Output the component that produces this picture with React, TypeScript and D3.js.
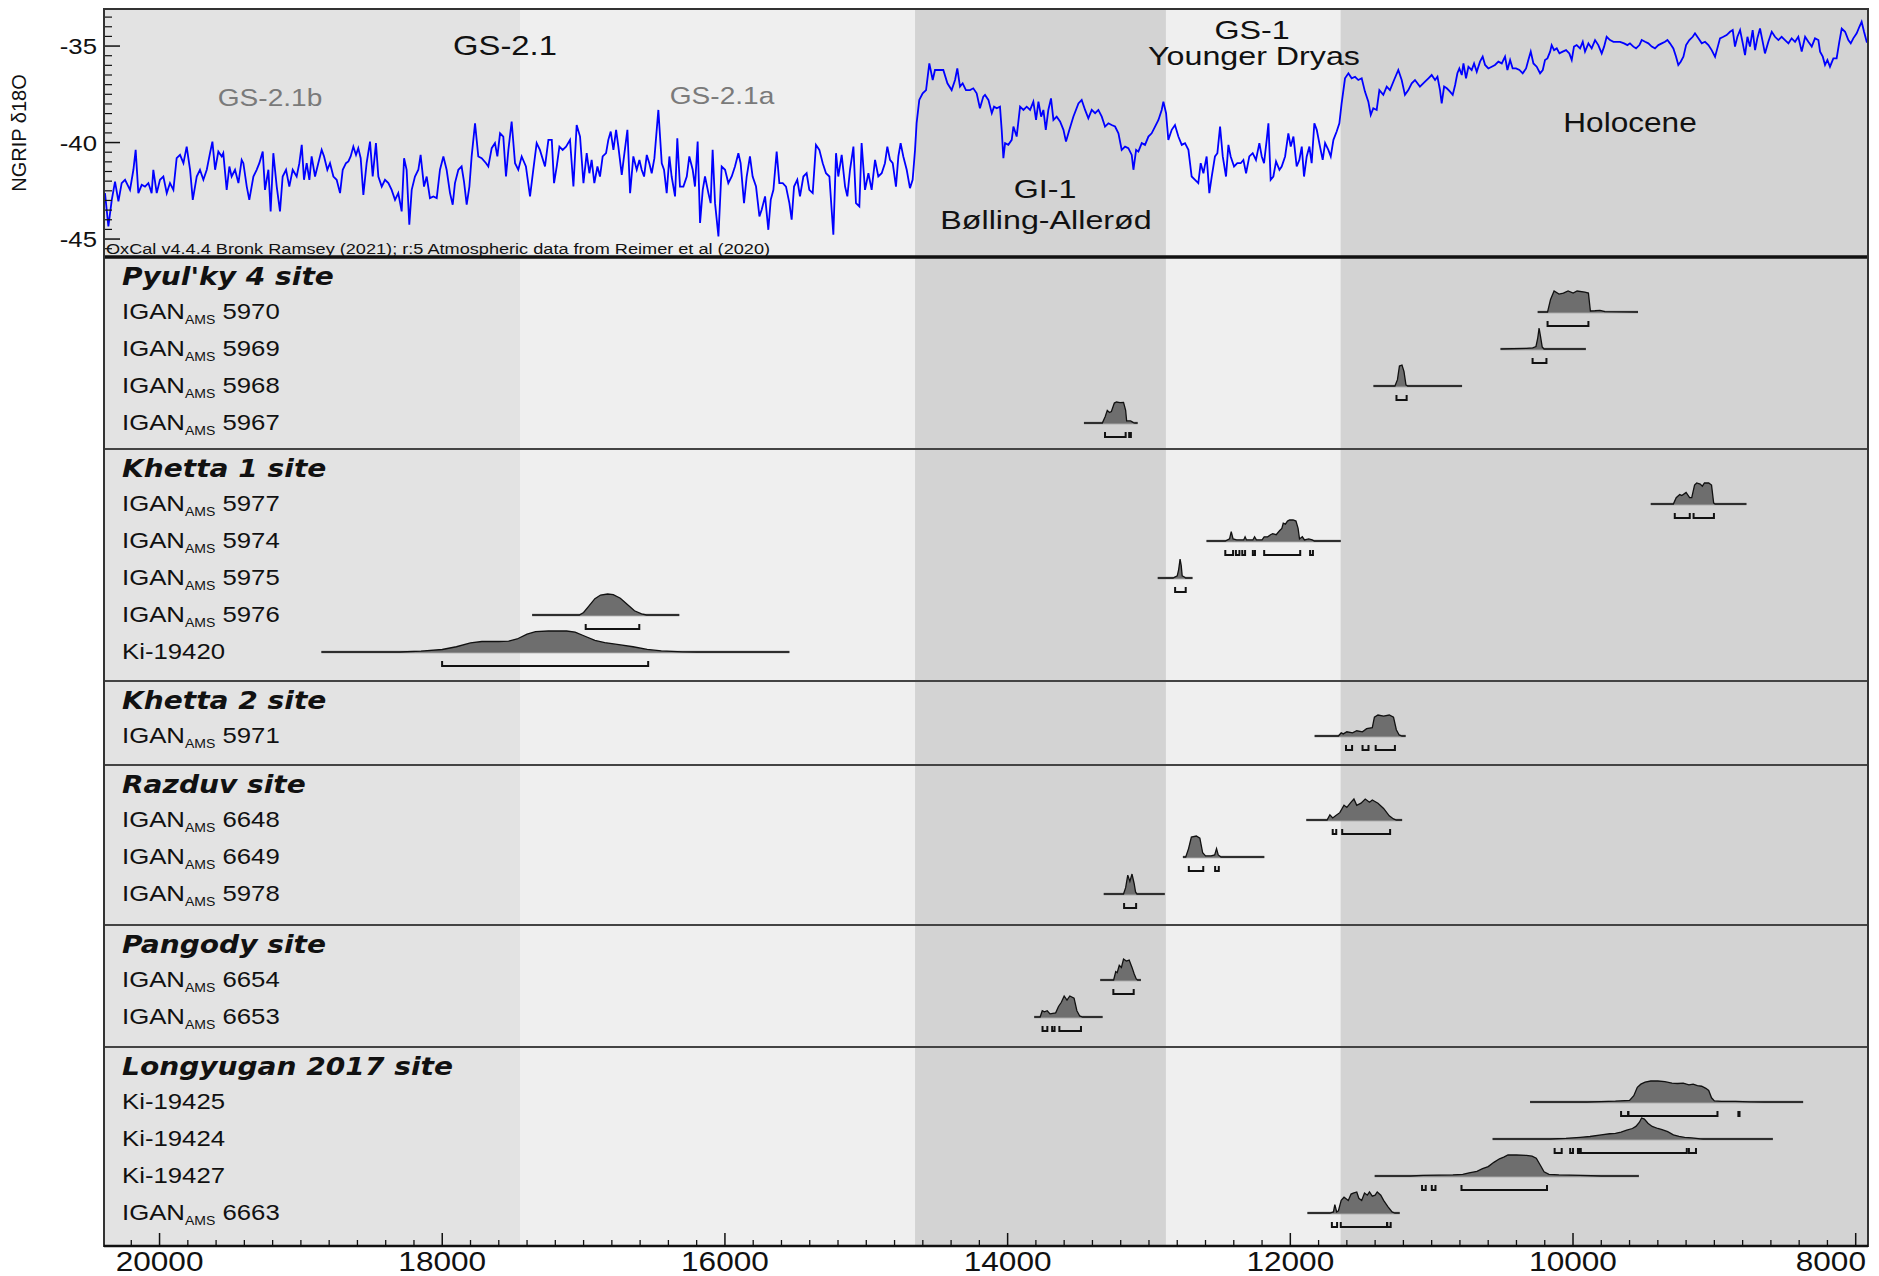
import React from "react";
import * as d3 from "d3";

// ---------------- DATA ----------------
// NGRIP δ18O record (year cal BP, ‰)
const ngripSeries: [number, number][] = [
[20386,-42.62],[20362,-44.34],[20338,-42.97],[20315,-42.02],[20291,-43.05],[20268,-42.10],[20244,-41.93],[20209,-42.45],[20185,-41.41],[20169,-40.38],[20150,-42.62],[20126,-42.19],[20103,-42.28],[20079,-42.10],[20056,-42.62],[20044,-41.41],[20020,-42.62],[19997,-41.93],[19973,-41.76],[19949,-42.62],[19926,-42.10],[19902,-42.45],[19879,-40.81],[19855,-40.64],[19831,-41.07],[19808,-40.21],[19784,-41.41],[19765,-42.97],[19737,-41.76],[19714,-41.41],[19690,-41.93],[19666,-41.41],[19643,-40.55],[19626,-39.95],[19607,-41.41],[19584,-40.47],[19560,-40.72],[19549,-40.55],[19525,-42.45],[19506,-41.24],[19490,-41.76],[19466,-41.41],[19442,-42.10],[19419,-40.90],[19407,-41.07],[19383,-42.28],[19365,-42.97],[19336,-41.76],[19313,-41.41],[19294,-41.07],[19270,-40.47],[19254,-42.45],[19230,-41.41],[19214,-43.57],[19195,-40.55],[19171,-42.28],[19148,-43.57],[19129,-41.76],[19105,-41.41],[19082,-42.28],[19058,-41.41],[19030,-41.76],[19011,-41.07],[18994,-40.12],[18978,-41.93],[18959,-41.07],[18940,-41.93],[18924,-40.72],[18900,-41.76],[18877,-41.07],[18853,-40.38],[18836,-40.72],[18813,-41.41],[18794,-41.07],[18770,-41.76],[18747,-41.93],[18723,-42.62],[18704,-41.41],[18681,-41.07],[18664,-40.98],[18648,-40.72],[18629,-40.21],[18610,-40.64],[18594,-40.29],[18577,-40.81],[18558,-42.71],[18535,-41.07],[18511,-39.95],[18492,-41.76],[18469,-40.03],[18452,-41.76],[18428,-42.28],[18405,-41.93],[18381,-42.10],[18358,-42.45],[18334,-42.97],[18311,-42.62],[18287,-43.57],[18270,-40.81],[18252,-41.41],[18233,-44.26],[18216,-42.45],[18193,-41.76],[18169,-41.41],[18153,-40.64],[18129,-42.28],[18110,-41.76],[18087,-42.88],[18063,-42.79],[18039,-42.88],[18016,-41.41],[17992,-40.72],[17969,-41.41],[17945,-42.62],[17926,-43.22],[17910,-42.10],[17886,-41.41],[17863,-41.24],[17846,-42.02],[17827,-43.22],[17808,-42.28],[17792,-40.72],[17768,-39.00],[17745,-40.72],[17721,-40.81],[17690,-41.07],[17674,-41.24],[17650,-40.29],[17627,-40.03],[17610,-40.72],[17591,-39.52],[17568,-39.69],[17549,-41.76],[17532,-40.38],[17509,-38.91],[17485,-41.07],[17462,-41.41],[17438,-40.72],[17408,-41.24],[17379,-42.79],[17356,-41.41],[17332,-40.03],[17309,-40.38],
[17273,-41.24],[17249,-39.86],[17225,-39.86],[17209,-42.10],[17190,-41.24],[17171,-40.21],[17148,-40.38],[17124,-40.21],[17096,-39.86],[17072,-42.28],[17049,-39.09],[17025,-39.69],[17001,-42.10],[16978,-40.55],[16959,-41.59],[16943,-40.90],[16924,-42.10],[16902,-41.24],[16884,-41.76],[16865,-40.72],[16841,-40.55],[16825,-39.86],[16808,-39.43],[16789,-40.38],[16770,-39.34],[16754,-40.21],[16730,-41.67],[16714,-40.72],[16690,-39.34],[16671,-42.62],[16648,-40.72],[16624,-41.41],[16605,-40.90],[16589,-41.41],[16572,-41.76],[16553,-40.64],[16535,-41.07],[16518,-41.59],[16499,-40.81],[16471,-38.31],[16447,-41.07],[16431,-41.41],[16412,-42.62],[16393,-40.72],[16377,-41.76],[16353,-42.79],[16337,-39.78],[16318,-42.28],[16294,-42.28],[16270,-41.76],[16252,-40.72],[16228,-41.41],[16212,-42.28],[16193,-39.95],[16176,-44.17],[16157,-42.45],[16141,-41.76],[16117,-42.62],[16101,-43.14],[16087,-40.38],[16070,-43.14],[16046,-44.86],[16023,-41.24],[15999,-41.41],[15976,-42.10],[15952,-41.76],[15929,-41.24],[15905,-40.55],[15889,-41.07],[15865,-43.14],[15846,-41.76],[15823,-40.72],[15804,-41.76],[15780,-42.28],[15756,-43.83],[15740,-43.48],[15716,-42.79],[15693,-44.52],[15676,-42.97],[15657,-42.45],[15634,-40.47],[15615,-42.10],[15591,-42.10],[15568,-42.28],[15544,-43.14],[15528,-44.00],[15511,-42.28],[15488,-41.93],[15469,-42.79],[15445,-41.76],[15422,-41.59],[15403,-42.45],[15379,-42.62],[15356,-40.12],[15332,-40.38],[15308,-41.07],[15285,-41.59],[15261,-41.76],[15233,-44.78],[15214,-40.55],[15198,-41.76],[15174,-40.64],[15150,-42.28],[15134,-42.79],[15115,-41.41],[15091,-40.21],[15073,-43.14],[15049,-43.31],[15033,-40.03],[15009,-42.45],[14985,-41.59],[14962,-42.45],[14938,-40.90],[14915,-41.76],[14891,-41.59],[14868,-41.07],[14851,-40.21],[14832,-40.90],[14813,-41.07],[14790,-42.28],[14773,-40.72],[14757,-40.03],[14738,-40.72],[14714,-41.41],[14691,-42.36],[14672,-41.93],[14655,-40.38],[14644,-39.00],[14625,-37.79],[14601,-37.45],[14577,-37.28],[14554,-35.90],[14530,-36.76],[14514,-36.24],[14490,-36.24],[14455,-36.24],[14426,-36.93],[14396,-37.28],[14372,-36.76],[14356,-36.16],[14337,-37.10],[14318,-36.93],[14295,-37.28],[14266,-37.28],[14243,-37.19],[14219,-37.45],[14196,-38.22],[14172,-37.62],
[14160,-37.53],[14136,-37.79],[14112,-38.48],[14096,-38.14],[14077,-38.22],[14054,-38.14],[14042,-39.34],[14030,-40.81],[14018,-40.03],[13995,-40.12],[13971,-39.86],[13959,-39.17],[13936,-39.69],[13912,-38.14],[13888,-38.31],[13865,-38.14],[13841,-38.31],[13818,-37.88],[13799,-38.83],[13782,-37.88],[13763,-38.66],[13747,-38.31],[13730,-39.34],[13712,-38.31],[13693,-37.71],[13676,-38.83],[13653,-38.66],[13629,-38.91],[13605,-39.34],[13587,-39.95],[13563,-39.34],[13535,-38.66],[13499,-37.97],[13476,-37.79],[13452,-38.31],[13429,-38.74],[13405,-38.31],[13381,-38.48],[13358,-38.31],[13334,-38.66],[13311,-39.17],[13287,-39.00],[13264,-39.09],[13240,-39.17],[13216,-39.52],[13193,-40.38],[13169,-40.21],[13146,-40.29],[13122,-40.64],[13110,-41.41],[13091,-40.38],[13075,-40.47],[13051,-40.03],[13028,-40.12],[13004,-39.69],[12981,-39.52],[12957,-39.17],[12933,-38.83],[12910,-38.31],[12898,-37.88],[12879,-38.48],[12863,-39.86],[12839,-39.34],[12816,-39.09],[12792,-39.69],[12768,-40.12],[12745,-40.03],[12721,-40.38],[12698,-41.76],[12674,-41.93],[12651,-42.10],[12634,-41.07],[12615,-41.59],[12592,-40.72],[12573,-42.62],[12556,-41.76],[12533,-40.72],[12516,-40.55],[12497,-39.17],[12478,-40.72],[12455,-41.76],[12438,-40.12],[12422,-40.72],[12398,-41.24],[12375,-41.07],[12351,-41.07],[12332,-40.90],[12313,-41.59],[12290,-40.72],[12266,-40.55],[12243,-40.90],[12219,-40.03],[12202,-40.72],[12186,-41.07],[12167,-39.86],[12155,-39.00],[12139,-41.93],[12120,-41.76],[12101,-40.98],[12077,-41.41],[12061,-41.24],[12037,-40.72],[12014,-39.52],[11997,-40.21],[11978,-39.69],[11955,-41.24],[11936,-40.90],[11919,-40.21],[11903,-41.76],[11884,-40.72],[11865,-40.21],[11849,-41.07],[11830,-39.00],[11813,-39.34],[11790,-40.21],[11771,-40.90],[11754,-40.03],[11731,-40.38],[11714,-40.72],[11695,-39.86],[11672,-39.43],[11653,-39.00],[11637,-37.97],[11613,-36.67],[11589,-36.41],[11566,-36.67],[11542,-36.59],[11519,-36.76],[11495,-36.67],[11472,-37.36],[11448,-37.88],[11431,-38.57],[11413,-38.22],[11389,-38.31],[11370,-37.28],[11342,-37.53],[11318,-37.10],[11295,-37.28],[11266,-36.76],[11236,-36.24],[11212,-36.76],[11189,-37.53],[11165,-37.28],[11141,-36.93],[11118,-36.76],[11083,-37.10],
[11047,-36.84],[11023,-36.67],[11000,-36.50],[10976,-36.76],[10959,-36.59],[10941,-37.28],[10929,-37.97],[10912,-37.10],[10893,-37.19],[10870,-37.36],[10851,-37.53],[10834,-37.02],[10818,-36.41],[10804,-36.16],[10787,-36.50],[10775,-35.90],[10757,-36.67],[10740,-36.07],[10717,-36.24],[10700,-35.90],[10681,-36.33],[10658,-35.81],[10639,-35.55],[10622,-35.98],[10599,-36.16],[10575,-36.07],[10552,-35.98],[10528,-35.81],[10504,-35.90],[10481,-35.55],[10464,-36.24],[10445,-35.72],[10427,-36.16],[10403,-36.16],[10379,-36.24],[10356,-36.41],[10332,-36.16],[10316,-35.72],[10299,-35.29],[10280,-35.90],[10257,-36.07],[10233,-36.41],[10214,-36.24],[10198,-35.72],[10181,-35.64],[10162,-35.29],[10151,-34.95],[10134,-35.21],[10115,-35.12],[10096,-35.38],[10073,-35.29],[10049,-35.21],[10026,-35.38],[10009,-35.72],[9993,-35.03],[9974,-34.95],[9950,-35.12],[9931,-34.78],[9915,-35.29],[9891,-34.86],[9868,-35.12],[9844,-34.69],[9821,-34.95],[9797,-35.38],[9780,-35.03],[9762,-34.52],[9738,-34.69],[9714,-34.78],[9691,-34.78],[9667,-34.78],[9639,-34.86],[9615,-34.95],[9597,-34.86],[9573,-35.03],[9554,-35.12],[9530,-34.95],[9514,-34.69],[9490,-34.78],[9467,-34.86],[9443,-35.03],[9420,-35.12],[9396,-34.95],[9372,-34.86],[9349,-34.78],[9332,-34.69],[9314,-34.86],[9290,-35.12],[9271,-35.55],[9255,-35.98],[9238,-35.81],[9219,-35.55],[9200,-34.95],[9177,-34.69],[9153,-34.52],[9137,-34.34],[9113,-34.60],[9089,-34.86],[9066,-34.78],[9042,-34.95],[9019,-35.21],[8995,-35.55],[8979,-35.12],[8960,-34.60],[8936,-34.52],[8913,-34.43],[8889,-34.26],[8870,-34.17],[8854,-35.03],[8837,-34.52],[8818,-34.17],[8799,-34.86],[8783,-35.47],[8766,-34.52],[8748,-35.03],[8729,-34.17],[8712,-35.21],[8696,-34.60],[8677,-34.09],[8658,-34.78],[8642,-35.38],[8618,-34.78],[8594,-34.26],[8571,-34.52],[8547,-34.69],[8524,-34.52],[8500,-34.69],[8476,-34.86],[8453,-34.60],[8429,-34.78],[8406,-34.52],[8382,-35.29],[8358,-34.52],[8335,-34.78],[8311,-35.03],[8288,-34.60],[8264,-34.69],[8252,-35.29],[8233,-35.55],[8217,-35.98],[8200,-35.72],[8182,-36.07],[8158,-35.64],[8135,-35.64],[8116,-34.78],[8099,-34.09],[8075,-34.26],[8052,-34.69],[8035,-34.86],[8017,-34.60],[7993,-34.34],[7974,-34.00],[7958,-33.74],[7941,-34.26],[7922,-34.78],[7905,-34.78]
];

// Climate periods (older boundary, younger boundary in cal BP)
const periodNames = ["GS-2.1b", "GS-2.1a", "GI-1", "GS-1", "Holocene"];
const periodOlder = [20393, 17450, 14655, 12880, 11645];
const periodYounger = [17450, 14655, 12880, 11645, 7913];

const xMajorTicks = [20000, 18000, 16000, 14000, 12000, 10000, 8000];
const yMajorTicks = [-35, -40, -45];

const siteNames = ["Pyul'ky 4 site", "Khetta 1 site", "Khetta 2 site", "Razduv site", "Pangody site", "Longyugan 2017 site"];
const siteSamples = [
  ["IGAN 5970", "IGAN 5969", "IGAN 5968", "IGAN 5967"],
  ["IGAN 5977", "IGAN 5974", "IGAN 5975", "IGAN 5976", "Ki-19420"],
  ["IGAN 5971"],
  ["IGAN 6648", "IGAN 6649", "IGAN 5978"],
  ["IGAN 6654", "IGAN 6653"],
  ["Ki-19425", "Ki-19424", "Ki-19427", "IGAN 6663"],
];

// calibrated probability distributions [cal BP, relative probability]
const dens5970 = [[10250,0],[10180,0],[10159,0.6],[10134,1.0],[10099,0.85],[10068,0.9],[10035,1.0],[9999,0.9],[9971,1.0],[9916,0.95],[9891,0.9],[9877,0.05],[9845,0.06],[9809,0.08],[9774,0.02],[9540,0]];
const dens5969 = [[10513,0],[10330,0.03],[10285,0.05],[10262,0.12],[10250,0.5],[10240,1.0],[10230,0.6],[10218,0.1],[10205,0],[9909,0]];
const dens5968 = [[11412,0],[11260,0],[11242,0.3],[11228,0.95],[11210,1.0],[11196,0.7],[11182,0.05],[11170,0],[10785,0]];
const dens5967 = [[13460,0],[13330,0],[13310,0.3],[13295,0.6],[13280,0.5],[13266,0.55],[13245,0.95],[13230,1.0],[13205,0.97],[13180,0.98],[13165,0.6],[13158,0.1],[13130,0.1],[13110,0.02],[13100,0],[13080,0]];
const dens5977 = [[9450,0],[9290,0],[9270,0.3],[9245,0.45],[9230,0.4],[9200,0.55],[9175,0.3],[9160,0.3],[9140,0.9],[9125,1.0],[9100,0.95],[9085,0.85],[9070,1.0],[9040,1.0],[9020,0.9],[9005,0.05],[8995,0],[8773,0]];
const dens5974 = [[12593,0],[12460,0],[12430,0.1],[12418,0.45],[12405,0.1],[12380,0.05],[12330,0.05],[12320,0.2],[12310,0.05],[12265,0.05],[12253,0.2],[12240,0.05],[12200,0.05],[12185,0.2],[12160,0.2],[12140,0.3],[12125,0.35],[12100,0.3],[12075,0.5],[12060,0.6],[12050,0.85],[12035,0.8],[12020,0.95],[12005,1.0],[11980,1.0],[11960,0.95],[11945,0.6],[11935,0.1],[11915,0.2],[11900,0.05],[11870,0.1],[11845,0.05],[11830,0],[11643,0]];
const dens5975 = [[12938,0],[12830,0],[12800,0.1],[12790,0.4],[12780,0.9],[12772,0.6],[12765,0.1],[12750,0.05],[12740,0],[12692,0]];
const dens5976 = [[17364,0],[17030,0],[17000,0.12],[16960,0.45],[16920,0.78],[16880,0.95],[16830,1.0],[16790,0.97],[16740,0.8],[16690,0.5],[16640,0.2],[16590,0.05],[16555,0],[16323,0]];
const densKi19420 = [[18855,0],[18300,0],[18150,0.04],[18000,0.12],[17900,0.25],[17800,0.43],[17720,0.5],[17600,0.5],[17530,0.52],[17470,0.62],[17400,0.85],[17340,0.97],[17250,1.0],[17120,1.0],[17060,0.95],[16990,0.75],[16920,0.55],[16850,0.45],[16750,0.35],[16650,0.25],[16550,0.12],[16450,0.05],[16300,0.01],[16200,0],[15544,0]];
const dens5971 = [[11828,0],[11660,0],[11640,0.15],[11625,0.1],[11600,0.2],[11560,0.15],[11530,0.25],[11490,0.2],[11460,0.35],[11420,0.4],[11405,0.9],[11380,1.0],[11340,0.95],[11300,1.0],[11270,0.9],[11250,0.3],[11230,0.05],[11210,0],[11184,0]];
const dens6648 = [[11887,0],[11740,0],[11720,0.25],[11700,0.1],[11680,0.2],[11650,0.35],[11620,0.7],[11600,0.6],[11570,0.85],[11550,1.0],[11530,0.7],[11500,0.8],[11470,1.0],[11440,0.85],[11420,0.95],[11380,0.8],[11340,0.55],[11300,0.2],[11270,0.05],[11250,0],[11209,0]];
const dens6649 = [[12760,0],[12740,0],[12720,0.4],[12700,0.95],[12665,1.0],[12640,0.9],[12620,0.2],[12600,0.05],[12560,0.05],[12535,0.1],[12522,0.4],[12510,0.1],[12490,0],[12184,0]];
const dens5978 = [[13320,0],[13180,0],[13165,0.3],[13150,0.9],[13135,0.6],[13120,0.95],[13105,0.5],[13095,0.1],[13085,0],[12888,0]];
const dens6654 = [[13345,0],[13250,0],[13235,0.4],[13225,0.35],[13210,0.7],[13195,0.6],[13180,1.0],[13160,0.9],[13140,0.95],[13120,0.6],[13105,0.3],[13090,0.05],[13080,0],[13057,0]];
const dens6653 = [[13812,0],[13770,0],[13755,0.3],[13740,0.25],[13720,0.3],[13700,0.15],[13660,0.2],[13640,0.5],[13620,0.7],[13600,1.0],[13580,0.8],[13560,1.0],[13530,0.9],[13510,0.3],[13490,0.05],[13470,0],[13328,0]];
const densKi19425 = [[10304,0],[9900,0],[9800,0.02],[9700,0.04],[9600,0.08],[9570,0.3],[9545,0.7],[9520,0.85],[9490,0.95],[9450,1.0],[9400,1.0],[9350,0.97],[9300,0.9],[9260,0.88],[9220,0.9],[9180,0.82],[9150,0.85],[9120,0.78],[9090,0.75],[9060,0.65],[9040,0.55],[9020,0.2],[9000,0.05],[8950,0.03],[8850,0.03],[8750,0.01],[8650,0],[8372,0]];
const densKi19424 = [[10569,0],[10160,0],[10050,0.03],[9950,0.08],[9880,0.12],[9800,0.2],[9740,0.25],[9700,0.27],[9660,0.33],[9620,0.42],[9580,0.5],[9555,0.6],[9530,0.8],[9515,1.0],[9495,0.95],[9470,0.75],[9440,0.6],[9400,0.5],[9370,0.45],[9330,0.35],[9290,0.2],[9250,0.12],[9210,0.08],[9160,0.05],[9100,0.01],[9080,0],[8586,0]];
const densKi19427 = [[11403,0],[11150,0],[11060,0.03],[10950,0.04],[10850,0.05],[10780,0.08],[10735,0.15],[10680,0.22],[10640,0.35],[10600,0.45],[10560,0.65],[10520,0.82],[10490,0.9],[10460,1.0],[10400,1.0],[10330,0.98],[10290,0.95],[10260,0.85],[10230,0.5],[10205,0.2],[10170,0.08],[10100,0.05],[9950,0.03],[9800,0],[9534,0]];
const dens6663 = [[11879,0],[11720,0],[11695,0.05],[11685,0.4],[11672,0.05],[11660,0.1],[11640,0.6],[11620,0.75],[11590,0.6],[11570,0.9],[11555,0.95],[11530,1.0],[11515,0.7],[11495,0.6],[11475,0.95],[11455,0.85],[11440,1.0],[11420,0.8],[11400,0.85],[11385,1.0],[11360,0.85],[11340,0.6],[11310,0.3],[11280,0.05],[11260,0],[11226,0]];

const siteDensities = [
  [dens5970, dens5969, dens5968, dens5967],
  [dens5977, dens5974, dens5975, dens5976, densKi19420],
  [dens5971],
  [dens6648, dens6649, dens5978],
  [dens6654, dens6653],
  [densKi19425, densKi19424, densKi19427, dens6663],
];

// 95.4% highest posterior density ranges (cal BP)
const siteRanges = [
  [[[10180,9891]], [[10286,10188]], [[11249,11177]], [[13311,13165],[13140,13128]]],
  [[[9280,9174],[9147,9003]], [[12460,12405],[12385,12360],[12340,12320],[12265,12250],[12185,11930],[11860,11840]], [[12815,12740]], [[16985,16606]], [[18001,16543]]],
  [[[11606,11563],[11489,11447],[11396,11260]]],
  [[[11700,11675],[11633,11294]], [[12718,12616],[12532,12506]], [[13176,13091]]],
  [[[13252,13108]], [[13753,13719],[13685,13668],[13634,13481]]],
  [[[9660,9609],[9609,8978],[8830,8822]], [[10130,10080],[10020,10000],[9965,9955],[9945,9195],[9180,9130]], [[11068,11042],[10999,10973],[10789,10184]], [[11706,11669],[11643,11315],[11315,11290]]],
];

// ---------------- LAYOUT / STYLE ----------------
const W = 1879, H = 1276;
const X0 = 104, X1 = 1868;
const TOP = 9, TOPB = 257, AXIS_Y = 1246;
const panelEdges = [257, 449, 681, 765, 925, 1047, 1246];
const SX = 1.17;
const bandFill = ["#e3e3e3", "#efefef", "#d3d3d3", "#efefef", "#d3d3d3"];
const SANS = "'Liberation Sans', Arial, sans-serif";

const x = d3.scaleLinear().domain([20393, 7913]).range([X0, X1]);
const y = d3.scaleLinear().domain([-45.93, -33.08]).range([TOPB, TOP]);

function T(props: any) {
  const { x: tx, y: ty, size, anchor = "start", fill = "#111", weight = "normal", fstyle = "normal", family = SANS, sx = SX, children, ls } = props;
  return (
    <text transform={`translate(${tx},${ty}) scale(${sx},1)`} fontSize={size} textAnchor={anchor}
      fill={fill} fontWeight={weight} fontStyle={fstyle} fontFamily={family} letterSpacing={ls}>
      {children}
    </text>
  );
}

export default function App() {
  const line = d3.line<[number, number]>().x(d => x(d[0])).y(d => y(d[1]));
  const minorX = d3.range(20200, 7900, -200).filter(v => v % 2000 !== 0);
  const minorY = d3.range(-33.5, -45.9, -0.5).filter(v => v % 5 !== 0);

  const panels: any[] = [];
  siteNames.forEach((name, si) => {
    const top = panelEdges[si];
    const rows = siteSamples[si].map((lab, i) => {
      const ry = top + 54 + i * 37;
      const dens = siteDensities[si][i] as [number, number][];
      const base = ry + 1;
      const area = d3.area<[number, number]>().x(d => x(d[0])).y0(base).y1(d => base - d[1] * 21);
      const topLine = d3.line<[number, number]>().x(d => x(d[0])).y(d => base - d[1] * 21);
      const brY = ry + 15;
      return (
        <g key={lab}>
          {lab.startsWith("IGAN ") ? (
            <text transform={`translate(122,${ry + 8}) scale(${SX},1)`} fontSize={22} fontFamily={SANS} fill="#111">
              <tspan>IGAN</tspan>
              <tspan fontSize={12} dy={5}>AMS</tspan>
              <tspan dy={-5}>{" " + lab.slice(5)}</tspan>
            </text>
          ) : (
            <T x={122} y={ry + 8} size={22}>{lab}</T>
          )}
          <line x1={x(dens[0][0])} x2={x(dens[dens.length - 1][0])} y1={base} y2={base} stroke="#8a8a8a" strokeWidth={2.5} />
          <path d={area(dens) || ""} fill="#6e6e6e" />
          <path d={topLine(dens) || ""} fill="none" stroke="#111" strokeWidth={1.3} />
          {siteRanges[si][i].map((r: number[], k: number) => (
            <path key={k} d={`M${x(r[0])},${brY - 5}V${brY}H${x(r[1])}V${brY - 5}`} fill="none" stroke="#111" strokeWidth={2} />
          ))}
        </g>
      );
    });
    panels.push(
      <g key={name}>
        <T x={122} y={top + 28} size={24} weight="bold" fstyle="italic" family="'DejaVu Sans', Verdana, sans-serif">{name}</T>
        {rows}
      </g>
    );
  });

  return (
    <svg width={W} height={H} style={{ position: "absolute", left: 0, top: 0, background: "#fff" }}>
      <defs>
        <clipPath id="topclip"><rect x={X0} y={TOP} width={X1 - X0} height={TOPB - TOP} /></clipPath>
      </defs>
      <rect x={0} y={0} width={W} height={H} fill="#fff" />
      {periodNames.map((p, i) => (
        <rect key={p} x={x(periodOlder[i])} y={TOP} width={x(periodYounger[i]) - x(periodOlder[i])} height={AXIS_Y - TOP} fill={bandFill[i]} />
      ))}

      {/* NGRIP */}
      <path d={line(ngripSeries) || ""} fill="none" stroke="#0000ff" strokeWidth={1.8} clipPath="url(#topclip)" />

      {/* y axis of top panel */}
      {yMajorTicks.map(v => (
        <g key={v}>
          <line x1={X0} x2={X0 + 16} y1={y(v)} y2={y(v)} stroke="#111" strokeWidth={1.5} />
          <T x={97} y={y(v) + 8} size={22} anchor="end">{String(v)}</T>
        </g>
      ))}
      {minorY.map(v => (
        <line key={v} x1={X0} x2={X0 + 8} y1={y(v)} y2={y(v)} stroke="#111" strokeWidth={1.2} />
      ))}
      <text transform={`translate(26,133) rotate(-90)`} fontSize={20} textAnchor="middle" fontFamily={SANS} fill="#111">NGRIP δ18O</text>

      {/* period labels */}
      <T x={505} y={55} size={28} anchor="middle">GS-2.1</T>
      <T x={270} y={106} size={24} anchor="middle" fill="#7a7a7a">GS-2.1b</T>
      <T x={722} y={104} size={24} anchor="middle" fill="#7a7a7a">GS-2.1a</T>
      <T x={1252} y={39} size={26} anchor="middle" sx={1.24}>GS-1</T>
      <T x={1254} y={65} size={26} anchor="middle" sx={1.24}>Younger Dryas</T>
      <T x={1045} y={198} size={26} anchor="middle" sx={1.24}>GI-1</T>
      <T x={1046} y={229} size={26} anchor="middle" sx={1.24}>Bølling-Allerød</T>
      <T x={1630} y={132} size={27} anchor="middle">Holocene</T>
      <text x={106} y={254} fontSize={14} fontFamily={SANS} fill="#111" textLength={664} lengthAdjust="spacingAndGlyphs">OxCal v4.4.4 Bronk Ramsey (2021); r:5 Atmospheric data from Reimer et al (2020)</text>

      {panels}

      {/* panel separators */}
      {panelEdges.slice(1, -1).map(py => (
        <line key={py} x1={X0} x2={X1} y1={py} y2={py} stroke="#444" strokeWidth={2} />
      ))}
      <line x1={X0} x2={X1} y1={TOPB} y2={TOPB} stroke="#111" strokeWidth={3.5} />
      <rect x={X0} y={TOP} width={X1 - X0} height={AXIS_Y - TOP} fill="none" stroke="#333" strokeWidth={2} />

      {/* x axis */}
      <line x1={X0} x2={X1} y1={AXIS_Y} y2={AXIS_Y} stroke="#111" strokeWidth={2.5} />
      {minorX.map(v => (
        <line key={v} x1={x(v)} x2={x(v)} y1={AXIS_Y} y2={AXIS_Y - 6} stroke="#111" strokeWidth={1.3} />
      ))}
      {xMajorTicks.map(v => {
        const px = x(v);
        const clamp = px + 44 > X1;
        return (
          <g key={v}>
            <line x1={px} x2={px} y1={AXIS_Y} y2={AXIS_Y - 13} stroke="#111" strokeWidth={1.5} />
            <T x={clamp ? X1 - 2 : px} y={1271} size={27} anchor={clamp ? "end" : "middle"}>{String(v)}</T>
          </g>
        );
      })}
    </svg>
  );
}
